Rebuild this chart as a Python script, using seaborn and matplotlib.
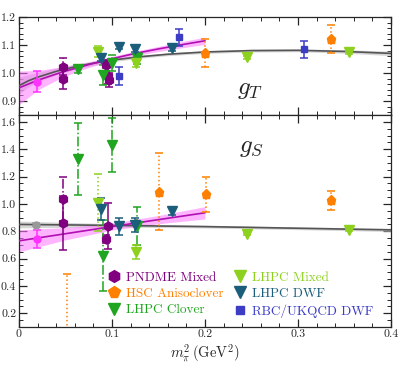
import matplotlib
matplotlib.use("Agg")
import matplotlib.pyplot as plt
import seaborn as sns
import pandas as pd
import numpy as np
from matplotlib.lines import Line2D

# ---- data ----
# g_T panel
pndme_T_x = [0.047, 0.047, 0.094, 0.096, 0.097]
pndme_T_y = [1.022, 0.978, 1.027, 0.99, 0.975]
pndme_T_e = [0.03, 0.035, 0.02, 0.03, 0.025]
pndme_T_ls = ['-.', '-', '-', '-', '-']
hsc_T_x = [0.2, 0.335]
hsc_T_y = [1.073, 1.12]
hsc_T_e = [0.05, 0.05]
clover_T_x = [0.063, 0.09, 0.1, 0.127]
clover_T_y = [1.015, 0.993, 1.035, 1.052]
clover_T_e = [0.015, 0.035, 0.028, 0.02]
mixed_T_x = [0.085, 0.126, 0.245, 0.355]
mixed_T_y = [1.076, 1.035, 1.056, 1.074]
mixed_T_e = [0.02, 0.015, 0.005, 0.005]
dwf_T_x = [0.088, 0.107, 0.125, 0.164]
dwf_T_y = [1.052, 1.094, 1.085, 1.088]
dwf_T_e = [0.01, 0.01, 0.01, 0.008]
rbc_T_x = [0.107, 0.172, 0.306]
rbc_T_y = [0.99, 1.128, 1.085]
rbc_T_e = [0.033, 0.03, 0.03]
phys_T = (0.019, 0.969, 0.037)

fitg_T_x = [0, 0.01, 0.02, 0.04, 0.06, 0.08, 0.1, 0.13, 0.16, 0.2, 0.25, 0.3, 0.35, 0.4]
fitg_T_y = [0.955, 0.972, 0.985, 1.006, 1.022, 1.035, 1.046, 1.058, 1.067, 1.075, 1.08, 1.081, 1.077, 1.07]
fitg_T_b = [0.03, 0.022, 0.017, 0.012, 0.009, 0.007, 0.006, 0.005, 0.005, 0.005, 0.005, 0.005, 0.006, 0.008]
fitm_T_x = [0, 0.02, 0.047, 0.075, 0.1, 0.125, 0.15, 0.175, 0.2]
fitm_T_y = [0.947, 0.974, 1.004, 1.03, 1.051, 1.07, 1.086, 1.101, 1.115]
fitm_T_b = [0.06, 0.035, 0.018, 0.01, 0.008, 0.008, 0.009, 0.011, 0.013]

# g_S panel
pndme_S_x = [0.047, 0.047, 0.096, 0.094]
pndme_S_y = [1.037, 0.86, 0.84, 0.745]
pndme_S_e = [0.16, 0.2, 0.17, 0.03]
pndme_S_ls = ['-.', '-', '-', '-']
hsc_S_x = [0.052, 0.151, 0.201, 0.335]
hsc_S_y = [-0.2, 1.09, 1.07, 1.025]
hsc_S_e = [0.69, 0.28, 0.13, 0.07]
clover_S_x = [0.063, 0.09, 0.1, 0.127]
clover_S_y = [1.33, 0.62, 1.43, 0.84]
clover_S_e = [0.265, 0.26, 0.195, 0.14]
mixed_S_x = [0.085, 0.126, 0.245, 0.355]
mixed_S_y = [1.01, 0.65, 0.78, 0.81]
mixed_S_e = [0.21, 0.05, 0.01, 0.01]
dwf_S_x = [0.088, 0.107, 0.125, 0.164]
dwf_S_y = [0.96, 0.836, 0.848, 0.946]
dwf_S_e = [0.08, 0.062, 0.05, 0.03]
phys_S = (0.019, 0.743, 0.065)
physg_S = (0.018, 0.848, 0.01)

fitg_S_x = [0, 0.1, 0.2, 0.3, 0.4]
fitg_S_y = [0.85, 0.843, 0.834, 0.822, 0.81]
fitg_S_b = [0.025, 0.012, 0.01, 0.01, 0.012]
fitm_S_x = [0, 0.05, 0.1, 0.15, 0.2]
fitm_S_y = [0.73, 0.782, 0.834, 0.885, 0.935]
fitm_S_b = [0.08, 0.045, 0.025, 0.03, 0.045]

labels = ['PNDME Mixed', 'HSC Anisoclover', 'LHPC Clover', 'LHPC Mixed', 'LHPC DWF', 'RBC/UKQCD DWF']

C_PNDME = '#800080'
C_HSC = '#ff8000'
C_CLOVER = '#1fa51f'
C_MIXED = '#8dd11e'
C_DWF = '#1b5e7b'
C_RBC = '#3c3cc4'
C_MAG = '#b010b0'
C_PINK = '#ff77ff'
C_GRAY = '#555555'

sns.set_theme(style='ticks')
plt.rcParams['font.family'] = ['serif']
plt.rcParams['font.serif'] = ['cmr10', 'DejaVu Serif']
plt.rcParams['mathtext.fontset'] = 'cm'
plt.rcParams['axes.formatter.use_mathtext'] = True
plt.rcParams['axes.unicode_minus'] = False

fig = plt.figure(figsize=(3.99, 3.69), dpi=100)
ax1 = fig.add_axes([19/399, 1-115/369, 372/399, 98/369])
ax2 = fig.add_axes([19/399, 1-327/369, 372/399, 212/369])


def points(ax, xs, ys, es, color, marker, ls, ms=6.5, alpha=1.0):
    if isinstance(ls, str):
        ls = [ls] * len(xs)
    for x, y, e, l in zip(xs, ys, es, ls):
        eb = ax.errorbar([x], [y], yerr=[e], fmt=marker, color=color, ms=ms,
                         capsize=3, capthick=1.1, elinewidth=1.1, alpha=alpha, zorder=4)
        eb[2][0].set_linestyle(l)


def fit(ax, xs, ys, bs, line_c, band_c, band_a):
    df = pd.DataFrame({'x': xs, 'y': ys})
    lo = np.array(ys) - np.array(bs)
    hi = np.array(ys) + np.array(bs)
    ax.fill_between(xs, lo, hi, color=band_c, alpha=band_a, lw=0, zorder=2)
    sns.lineplot(data=df, x='x', y='y', ax=ax, color=line_c, lw=1.2, zorder=3)


# top panel
fit(ax1, fitg_T_x, fitg_T_y, fitg_T_b, C_GRAY, '#bbbbbb', 0.6)
fit(ax1, fitm_T_x, fitm_T_y, fitm_T_b, C_MAG, C_PINK, 0.55)
points(ax1, pndme_T_x, pndme_T_y, pndme_T_e, C_PNDME, 'h', pndme_T_ls)
points(ax1, hsc_T_x, hsc_T_y, hsc_T_e, C_HSC, 'p', ':')
points(ax1, clover_T_x, clover_T_y, clover_T_e, C_CLOVER, 'v', '-.')
points(ax1, mixed_T_x, mixed_T_y, mixed_T_e, C_MIXED, 'v', ':')
points(ax1, dwf_T_x, dwf_T_y, dwf_T_e, C_DWF, 'v', '-')
points(ax1, rbc_T_x, rbc_T_y, rbc_T_e, C_RBC, 's', '-', ms=5)
points(ax1, [phys_T[0]], [phys_T[1]], [phys_T[2]], '#ff33ff', 'o', '-', ms=5)

# bottom panel
fit(ax2, fitg_S_x, fitg_S_y, fitg_S_b, C_GRAY, '#bbbbbb', 0.6)
fit(ax2, fitm_S_x, fitm_S_y, fitm_S_b, C_MAG, C_PINK, 0.55)
points(ax2, pndme_S_x, pndme_S_y, pndme_S_e, C_PNDME, 'h', pndme_S_ls)
points(ax2, hsc_S_x, hsc_S_y, hsc_S_e, C_HSC, 'p', ':')
points(ax2, clover_S_x, clover_S_y, clover_S_e, C_CLOVER, 'v', '-.')
points(ax2, mixed_S_x, mixed_S_y, mixed_S_e, C_MIXED, 'v', ':')
points(ax2, dwf_S_x, dwf_S_y, dwf_S_e, C_DWF, 'v', '-')
points(ax2, [physg_S[0]], [physg_S[1]], [physg_S[2]], '#999999', 'o', '-', ms=5)
points(ax2, [phys_S[0]], [phys_S[1]], [phys_S[2]], '#ff33ff', 'o', '-', ms=5)

for ax in (ax1, ax2):
    ax.set_xlim(0, 0.4)
    ax.set_xlabel('')
    ax.set_ylabel('')
    ax.set_xticks([0, 0.1, 0.2, 0.3, 0.4])
    ax.set_xticklabels(['0', '0.1', '0.2', '0.3', '0.4'])
    ax.xaxis.set_minor_locator(matplotlib.ticker.MultipleLocator(0.02))
    ax.tick_params(which='both', direction='in', top=True, right=True, labelsize=8.5, pad=2)
    ax.tick_params(which='major', length=6, width=0.9)
    ax.tick_params(which='minor', length=3, width=0.7)
    for s in ax.spines.values():
        s.set_linewidth(0.9)

ax1.set_ylim(0.85, 1.2)
ax1.set_yticks([0.9, 1.0, 1.1, 1.2])
ax1.yaxis.set_major_formatter(matplotlib.ticker.FormatStrFormatter('%.1f'))
ax1.yaxis.set_minor_locator(matplotlib.ticker.MultipleLocator(0.02))
ax1.tick_params(axis='x', labelbottom=False)

ax2.set_ylim(0.1, 1.65)
ax2.set_yticks([0.2, 0.4, 0.6, 0.8, 1.0, 1.2, 1.4, 1.6])
ax2.yaxis.set_major_formatter(matplotlib.ticker.FormatStrFormatter('%.1f'))
ax2.yaxis.set_minor_locator(matplotlib.ticker.MultipleLocator(0.05))
ax2.set_xlabel(r'$m_\pi^2\,(\mathrm{GeV}^2)$', fontsize=10.5, labelpad=3)

ax1.text(0.248, 0.94, r'$g_T$', fontsize=18, ha='center', va='center')
ax2.text(0.25, 1.41, r'$g_S$', fontsize=18, ha='center', va='center')

colors = [C_PNDME, C_HSC, C_CLOVER, C_MIXED, C_DWF, C_RBC]
markers = ['h', 'p', 'v', 'v', 'v', 's']
handles = [Line2D([], [], ls='none', marker=m, color=c, ms=8.5 if m != 's' else 6)
           for m, c in zip(markers, colors)]
leg = ax2.legend(handles, labels, ncol=2, loc='lower left', bbox_to_anchor=(0.212, -0.005),
                 frameon=False, fontsize=9.5, handlelength=0.8, handletextpad=0.5,
                 columnspacing=0.9, labelspacing=0.3, borderpad=0.3)
for t, c in zip(leg.get_texts(), colors):
    t.set_color(c)

fig.savefig('out.png', dpi=100)
